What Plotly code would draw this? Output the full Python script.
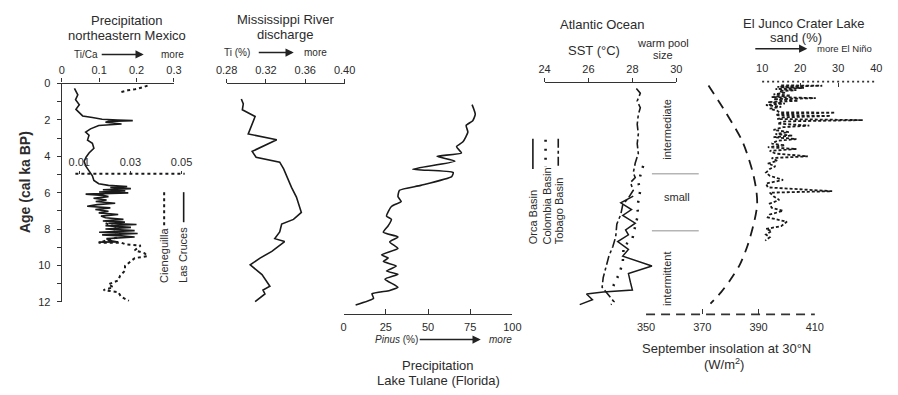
import plotly.graph_objects as go

# ------------------------------------------------------------------ data
age_ticks = list(range(0, 13))

las_cruces_age = [0.27, 0.62, 0.89, 1.16, 1.42, 1.69, 1.78, 1.87, 1.96, 2.00, 2.04, 2.08, 2.13, 2.22, 2.31,
                  2.49, 2.67, 2.84, 3.11, 3.29, 3.56, 3.82, 4.05, 4.27, 4.53, 4.80, 5.07, 5.33, 5.51, 5.60,
                  5.66, 5.72, 5.78, 5.84, 5.90, 5.96, 6.01, 6.08, 6.15, 6.22, 6.31, 6.40, 6.49, 6.58, 6.66,
                  6.75, 6.84, 6.93, 7.02, 7.11, 7.20, 7.29, 7.38, 7.47, 7.56, 7.62, 7.68, 7.75, 7.82, 7.91,
                  8.00, 8.09, 8.18, 8.25, 8.32, 8.38, 8.44, 8.53, 8.62, 8.71, 8.72]
las_cruces_tica = [0.034, 0.043, 0.037, 0.047, 0.038, 0.051, 0.056, 0.082, 0.108, 0.150, 0.190, 0.125, 0.117, 0.160, 0.099,
                   0.077, 0.064, 0.073, 0.069, 0.082, 0.086, 0.073, 0.065, 0.060, 0.064, 0.073, 0.082, 0.086, 0.099, 0.125,
                   0.175, 0.130, 0.185, 0.110, 0.170, 0.100, 0.178, 0.064, 0.110, 0.125, 0.085, 0.120, 0.091, 0.143, 0.095,
                   0.068, 0.130, 0.090, 0.125, 0.099, 0.151, 0.105, 0.117, 0.165, 0.110, 0.169, 0.125, 0.200, 0.117, 0.185,
                   0.117, 0.195, 0.100, 0.203, 0.108, 0.160, 0.195, 0.120, 0.125, 0.151, 0.099]

cieneguilla_age = [0.11, 0.21, 0.32, 0.37, 0.48, None,
                   7.68, 7.89, 8.11, 8.27, 8.48, 8.75, 8.75, 8.85, 8.91, 9.17, 9.33, 9.49, 9.60, 9.76,
                   10.03, 10.29, 10.56, 10.83, 11.04, 11.20, 11.36, 11.47, 11.73, 11.95]
cieneguilla_tica = [0.0367, 0.0348, 0.0317, 0.0290, 0.0260, None,
                    0.0203, 0.0245, 0.0230, 0.0260, 0.0245, 0.0176, 0.0264, 0.0283, 0.0340, 0.0317, 0.0355, 0.0367, 0.0317, 0.0302,
                    0.0279, 0.0279, 0.0260, 0.0252, 0.0214, 0.0233, 0.0195, 0.0252, 0.0264, 0.0294]

miss_age = [0.85, 1.12, 1.44, 1.81, 2.77, 3.09, 3.73, 4.05, 4.32, 4.69, 5.71, 6.24, 7.09, 7.47, 7.73, 8.16,
            8.53, 8.69, 9.23, 9.60, 9.97, 10.51, 11.15, 11.36, 11.57, 12.00]
miss_ti = [0.295, 0.297, 0.296, 0.309, 0.302, 0.331, 0.306, 0.310, 0.334, 0.338, 0.346, 0.351, 0.356, 0.348, 0.336, 0.334,
           0.329, 0.339, 0.326, 0.314, 0.304, 0.316, 0.324, 0.317, 0.319, 0.309]

tulane_age = [1.16, 1.69, 2.04, 2.30, 2.67, 3.20, 3.47, 3.82, 4.00, 4.27, 4.71, 4.89, 5.12, 5.60, 5.87, 6.22, 6.49,
              6.76, 7.29, 7.47, 7.82, 8.18, 8.44, 8.71, 9.07, 9.42, 9.60, 9.78, 10.04, 10.31, 10.49, 10.76, 11.20,
              11.38, 11.56, 11.82, 12.18]
tulane_pinus = [76.1, 78.0, 76.5, 72.6, 73.6, 70.7, 66.9, 69.8, 55.3, 65.9, 40.9, 64.9, 64.0, 45.7, 33.1, 32.2, 34.1,
                28.3, 25.4, 28.3, 26.4, 23.5, 32.2, 27.3, 32.2, 22.5, 26.4, 23.5, 31.2, 25.4, 32.2, 24.5, 32.2,
                27.3, 16.8, 17.7, 7.1]

orca_age = [6.19, 6.56, 6.93, 7.25, 7.68, 8.05, 8.32, 8.69, 9.12, 9.49, 10.03, 10.45, 10.93, 11.36, 11.47, 11.57, 11.89, 12.16]
orca_sst = [28.04, 27.47, 27.96, 27.56, 28.13, 27.69, 27.82, 27.33, 27.82, 27.56, 28.89, 27.82, 27.91, 28.00, 26.67, 25.91, 26.18, 25.60]

colombia_age = [4.53, 4.91, 5.44, 5.87, 6.40, 6.83, 7.20, 7.57, 8.53, 8.96, 9.87, 10.51, 11.04, 11.47]
colombia_sst = [28.49, 28.40, 28.27, 28.36, 28.27, 28.22, 28.27, 28.18, 28.00, 27.60, 27.56, 27.38, 27.16, 27.07]

tobago_age = [0.27, 0.53, 0.96, 1.33, 1.71, 2.24, 2.77, 3.31, 3.84, 4.37, 4.91, 5.17, 5.44, 5.87, 6.29, 6.67, 7.20,
              7.73, 8.43, 8.96, 9.49, 10.03, 10.67, 11.20, 11.63, 12.00, 12.16]
tobago_sst = [28.18, 28.36, 28.22, 28.36, 28.27, 28.22, 28.27, 28.22, 28.27, 28.13, 28.04, 28.13, 27.91, 28.04, 27.82,
              27.56, 27.47, 27.29, 27.24, 27.11, 26.93, 26.80, 26.67, 26.62, 26.89, 27.16, 27.02]

insol_age = [0.11, 1.60, 3.20, 4.80, 5.87, 6.67, 7.57, 8.91, 9.97, 10.83, 11.47, 12.11]
insol_wm2 = [372.2, 378.4, 384.3, 387.8, 389.2, 389.5, 388.5, 386.1, 383.3, 379.8, 376.7, 372.9]

junco_age = [0.10, 0.12, 0.18, 0.24, 0.30, 0.36, 0.42, 0.50, 0.60, 0.66, 0.74, 0.80, 0.86, 0.95, 1.02, 1.10, 1.18,
             1.28, 1.38, 1.50, 1.58, 1.60, 1.66, 1.74, 1.78, 1.86, 1.95, 2.01, 2.08, 2.20, 2.31, 2.40, 2.55, 2.67,
             2.78, 2.86, 2.95, 3.05, 3.15, 3.30, 3.40, 3.50, 3.60, 3.70, 3.85, 4.00, 4.10, 4.25, 4.40, 4.55, 4.70,
             4.90, 5.07, 5.30, 5.50, 5.71, 5.92, 6.00, 6.20, 6.40, 6.60, 6.83, 7.00, 7.20, 7.36, 7.60, 7.84, 8.00,
             8.11, 8.30, 8.45, 8.64]
junco_sand = [15.0, 25.8, 14.0, 21.0, 13.5, 19.0, 14.5, 16.0, 13.0, 17.5, 12.5, 24.1, 13.0, 19.5, 11.5, 16.0, 11.0,
              15.0, 12.0, 14.0, 14.5, 29.2, 15.0, 13.5, 28.0, 15.5, 14.0, 36.5, 16.0, 14.0, 22.4, 15.5, 13.0, 17.0,
              13.5, 18.0, 13.0, 19.0, 14.0, 12.5, 16.0, 11.5, 19.0, 12.0, 13.5, 22.0, 12.5, 14.0, 11.5, 13.5, 12.0,
              11.0, 12.0, 15.5, 11.0, 11.5, 28.4, 12.0, 13.0, 14.5, 12.0, 12.5, 15.5, 12.0, 11.5, 16.5, 15.0, 11.0,
              12.5, 11.0, 12.0, 10.8]

warm_pool_bounds = [4.96, 8.10]

# ------------------------------------------------------------------ layout helpers
W, H = 898, 395
FONT = "Liberation Sans, Arial, sans-serif"
INK = "#1a1a1a"
TXT = "#2b2b2b"


def fx(p):
    return p / W


def fy(p):
    return 1 - p / H


AGE0_PX, AGE12_PX = 80, 305
PX_PER_KA = (AGE12_PX - AGE0_PX) / 12.0


def px_to_age(p):
    return (p - AGE0_PX) / PX_PER_KA


Y2_TOP, Y2_BOT = 58, 342

fig = go.Figure()


def line_trace(x, y, xa, ya, dash="solid", width=1.5, shape="linear", smoothing=None):
    ln = dict(color=INK, width=width, dash=dash, shape=shape)
    if smoothing is not None:
        ln["smoothing"] = smoothing
    fig.add_trace(go.Scatter(x=x, y=y, xaxis=xa, yaxis=ya, mode="lines", line=ln,
                             connectgaps=False, hoverinfo="skip", showlegend=False))


line_trace(las_cruces_tica, las_cruces_age, "x", "y", width=1.6)
line_trace(cieneguilla_tica, cieneguilla_age, "x2", "y", dash="dot", width=2)
line_trace(miss_ti, miss_age, "x3", "y2", width=1.6)
line_trace(tulane_pinus, tulane_age, "x4", "y2", width=1.6, shape="spline", smoothing=0.5)
line_trace(orca_sst, orca_age, "x5", "y2", width=1.5)
line_trace(colombia_sst, colombia_age, "x5", "y2", dash="2px,7px", width=2.5)
line_trace(tobago_sst, tobago_age, "x5", "y2", dash="dashdot", width=1.6)
line_trace(insol_wm2, insol_age, "x6", "y2", dash="10px,7px", width=1.8, shape="spline", smoothing=0.8)
line_trace(junco_sand, junco_age, "x7", "y2", dash="3px,2px", width=1.8)

tick_font = dict(family=FONT, size=11, color=TXT)
base_x = dict(showgrid=False, zeroline=False, fixedrange=True, tickfont=tick_font,
              linecolor="#333", linewidth=1.2, tickcolor="#333", tickwidth=1.2)


def xa(**kw):
    d = dict(base_x)
    d.update(kw)
    return d


fig.update_layout(
    width=W, height=H, margin=dict(l=0, r=0, t=0, b=0),
    paper_bgcolor="white", plot_bgcolor="rgba(0,0,0,0)",
    font=dict(family=FONT, color=TXT),
    showlegend=False,
    xaxis=xa(domain=[fx(52), fx(167)], range=[0, 0.3], anchor="y", side="top", showline=True,
             ticks="outside", ticklen=4, tickvals=[0, 0.1, 0.2, 0.3], ticktext=["0", "0.1", "0.2", "0.3"]),
    yaxis=dict(domain=[fy(AGE12_PX), fy(AGE0_PX)], range=[12, 0], anchor="x", showline=True,
               linecolor="#333", linewidth=1.2, ticks="outside", ticklen=4, tickcolor="#333", tickwidth=1.2,
               tickvals=age_ticks, ticktext=[str(a) if a % 2 == 0 else "" for a in age_ticks],
               ticklabelstandoff=4,
               tickfont=tick_font, showgrid=False, zeroline=False, fixedrange=True),
    xaxis2=xa(domain=[fx(66), fx(178)], range=[0.0085, 0.0512], anchor="free", position=fy(173), side="top",
              showline=False, ticks="outside", ticklen=3, tickvals=[0.01, 0.03, 0.05],
              ticktext=["0.01", "0.03", "0.05"]),
    xaxis3=xa(domain=[fx(221), fx(342)], range=[0.28, 0.40], anchor="free", position=fy(79), side="top",
              showline=True, ticks="outside", ticklen=4, tickvals=[0.28, 0.32, 0.36, 0.40],
              ticktext=["0.28", "0.32", "0.36", "0.40"]),
    xaxis4=xa(domain=[fx(341), fx(514)], range=[0, 100], anchor="free", position=fy(318), side="bottom",
              showline=True, ticks="inside", ticklen=5, tickvals=[0, 25, 50, 75, 100], ticklabelstandoff=2),
    xaxis5=xa(domain=[fx(547), fx(682)], range=[24, 30], anchor="free", position=fy(78), side="top",
              showline=True, ticks="outside", ticklen=4, tickvals=[24, 26, 28, 30]),
    xaxis6=xa(domain=[fx(651), fx(824)], range=[350, 410], anchor="free", position=fy(318), side="bottom",
              showline=False, ticks="inside", ticklen=5, tickvals=[350, 370, 390, 410], ticklabelstandoff=5),
    xaxis7=xa(domain=[fx(770), fx(887)], range=[10, 40], anchor="free", position=fy(78), side="top",
              showline=False, ticks="inside", ticklen=4, tickvals=[10, 20, 30, 40], ticklabelstandoff=7),
    yaxis2=dict(domain=[fy(Y2_BOT), fy(Y2_TOP)], range=[px_to_age(Y2_BOT), px_to_age(Y2_TOP)],
                visible=False, fixedrange=True, anchor="x3"),
)

# ------------------------------------------------------------------ decorations (axis lines / legend keys)
shapes = []
shapes.append(dict(type="line", xref="x2 domain", yref="paper", x0=0, x1=1, y0=fy(173), y1=fy(173),
                   line=dict(color=INK, width=2, dash="dot")))
shapes.append(dict(type="line", xref="x6 domain", yref="paper", x0=0, x1=1, y0=fy(318), y1=fy(318),
                   line=dict(color="#333", width=1.8, dash="9px,6px")))
shapes.append(dict(type="line", xref="x7 domain", yref="paper", x0=0, x1=1, y0=fy(78), y1=fy(78),
                   line=dict(color="#333", width=1.6, dash="2px,3px")))
for b in warm_pool_bounds:
    shapes.append(dict(type="line", xref="paper", yref="y2", x0=fx(657), x1=fx(705), y0=b, y1=b,
                       line=dict(color="#b5b5b5", width=1.5)))


def vkey(x, y0, y1, dash, width=1.5):
    shapes.append(dict(type="line", xref="paper", yref="paper", x0=fx(x), x1=fx(x), y0=fy(y0), y1=fy(y1),
                       line=dict(color=INK, width=width, dash=dash)))


vkey(157, 192, 228, "dot", 2)
vkey(177, 192, 223, "solid", 1.6)
vkey(535, 137, 168, "solid", 1.6)
vkey(548, 138, 166, "2px,7px", 2.6)
vkey(561, 137, 165, "dashdot", 1.6)
fig.update_layout(shapes=shapes)

# ------------------------------------------------------------------ text
ann = []


def text(x, y, s, size=13, xanchor="center", yanchor="middle", angle=0, color=TXT):
    ann.append(dict(x=fx(x), y=fy(y), xref="paper", yref="paper", text=s, showarrow=False,
                    xanchor=xanchor, yanchor=yanchor, textangle=angle,
                    font=dict(family=FONT, size=size, color=color)))


def arrow_to_text(tail_x, y, label, label_cx, gap, size=10):
    # arrow starts at tail_x and its head points at the label (drawn at the label side)
    ann.append(dict(x=fx(tail_x), y=fy(y), xref="paper", yref="paper", text=label, showarrow=True,
                    ax=label_cx - tail_x, ay=0, arrowside="start", arrowhead=2, startarrowhead=2,
                    arrowsize=1.1, startarrowsize=1.1, arrowwidth=1.5, arrowcolor="#222",
                    standoff=0, startstandoff=gap,
                    font=dict(family=FONT, size=size, color=TXT)))


text(119, 15, "Precipitation")
text(119, 30, "northeastern Mexico")
text(77, 50, "Ti/Ca", 10)
arrow_to_text(93, 50, "more", 164, 16)

text(281, 14, "Mississippi River")
text(281, 29, "discharge")
text(232, 48, "Ti (%)", 10)
arrow_to_text(254, 48, "more", 311, 9)

text(15, 182, "<b>Age (cal ka BP)</b>", 14, angle=-90)
text(157, 288, "Cieneguilla", 11, yanchor="bottom", angle=-90)
text(177, 288, "Las Cruces", 11, yanchor="bottom", angle=-90)

text(395, 344, "<i>Pinus</i> (%)", 10)
arrow_to_text(419, 344, "<i>more</i>", 500, 7)
text(438, 371, "Precipitation")
text(438, 386, "Lake Tulane (Florida)")

text(606, 19, "Atlantic Ocean")
text(598, 46, "SST (°C)")
text(668, 38, "warm pool", 11)
text(668, 51, "size", 11)
text(536, 248, "Orca Basin", 11, yanchor="bottom", angle=-90)
text(549, 248, "Colombia Basin", 11, yanchor="bottom", angle=-90)
text(562, 248, "Tobago Basin", 11, yanchor="bottom", angle=-90)
text(673, 127, "intermediate", 11, angle=-90)
text(683, 197, "small", 11)
text(673, 282, "intermittent", 11, angle=-90)

text(733, 353, "September insolation at 30°N")
text(731, 369, "(W/m<sup>2</sup>)")

text(812, 18, "El Junco Crater Lake")
text(805, 32, "sand (%)")
arrow_to_text(763, 44, "more El Niño", 852, 8, 9.5)

fig.update_layout(annotations=ann)

fig.write_html("out.html")
